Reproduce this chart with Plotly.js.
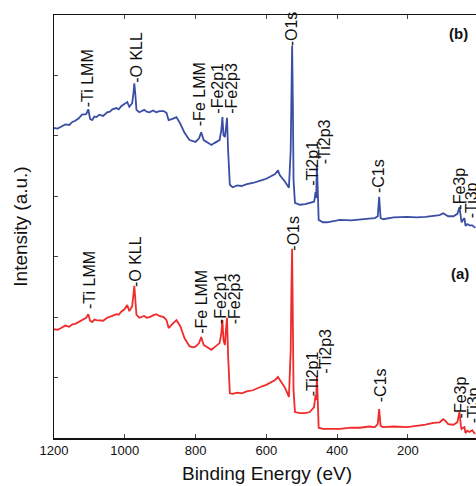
<!DOCTYPE html>
<html>
<head>
<meta charset="utf-8">
<script src="https://cdn.plot.ly/plotly-3.0.1.min.js"></script>
<style>
html,body{margin:0;padding:0;overflow:hidden;background:#fff;}
#chart{width:480px;height:486px;}
</style>
</head>
<body>
<div id="chart"></div>
<script>
// Binding energy (eV)
const energy = [1200,1190,1180,1168,1157,1148,1140,1130,1121,1109,1103,1098,1092,1086,1080,1072,1061,1050,1042,1035,1024,1017,1010,1001,993,987,979,975,973,970,967,959,952,945,938,930,920,911,902,890,882,876,865,854,843,831,817,808,800,790,784,777,769,762,755,747,740,732,727,724,721,717,714,711,708,703,695,682,670,655,638,624,610,600,590,575,567,562,547,536,531,529,527,525,523,519,505,490,477,465,463,461,459,457,455,452,440,428,410,392,360,335,310,293,285,281,277,270,240,202,175,150,128,110,100,93,86,71,60,54,50,48,44,40,37,32,26,18,12,9];
// Spectrum (b), offset (a.u.)
const intensityB = [51.3,51.2,51.5,51.9,51.8,52.3,52.5,52.9,53.5,53.6,54.4,52.8,52.6,53.2,53.1,53.5,53.3,53.9,54.0,54.4,54.6,54.4,54.9,55.3,55.6,54.8,55.4,57.3,58.7,56.8,54.3,53.9,54.1,54.3,54.0,53.9,54.2,53.9,54.1,54.1,53.8,52.6,52.8,53.1,52.0,50.5,49.3,49.1,49.0,49.6,50.6,49.3,49.0,48.7,48.5,48.8,49.0,49.3,51.0,53.1,50.1,49.8,51.3,53.0,47.7,41.9,41.5,41.8,41.7,42.0,42.2,42.4,42.7,42.9,43.2,43.7,44.3,43.5,42.4,41.4,47.7,59.2,64.9,55.9,42.7,38.9,38.6,38.7,38.9,39.1,39.7,40.7,39.7,45.2,41.9,36.1,35.7,35.7,35.9,36.1,36.0,36.2,36.3,36.4,36.7,39.9,36.4,36.2,36.5,36.6,36.5,36.6,36.7,36.9,37.2,36.9,36.7,36.7,37.1,38.2,36.4,35.7,36.1,36.4,35.1,35.4,35.2,35.2,34.9,34.8];
// Spectrum (a) (a.u.)
const intensityA = [18.0,17.9,18.2,18.6,18.4,18.8,18.9,19.2,19.5,19.9,20.5,19.4,19.2,19.6,19.5,19.5,19.4,19.9,20.0,20.2,20.5,20.4,20.9,21.3,22.0,21.0,21.8,23.5,25.2,22.8,20.4,19.9,20.1,20.2,19.9,20.0,20.3,20.5,20.2,20.0,19.5,18.2,18.9,19.5,18.5,16.5,15.2,15.0,15.1,15.7,16.7,15.4,15.1,14.8,14.6,15.0,15.4,15.7,17.4,19.5,16.2,15.4,17.9,19.9,13.7,7.4,7.3,7.5,7.4,7.7,7.9,8.3,8.6,8.8,9.1,9.6,10.1,9.6,8.3,6.8,14.6,24.5,31.3,19.5,7.9,4.3,4.1,4.1,4.3,5.1,6.0,7.1,6.3,10.1,7.1,1.7,1.5,1.5,1.6,1.5,1.7,1.7,1.9,1.8,2.3,4.8,2.0,1.8,1.9,1.8,2.0,2.2,2.5,2.6,3.1,2.8,2.3,2.2,2.6,4.3,2.0,1.5,1.7,1.8,0.8,1.2,1.0,1.3,0.8,0.7];

// Peak labels
const peakLabels = ["-Ti LMM","-O KLL","-Fe LMM","-Fe2p1","-Fe2p3","-O1s","-Ti2p1","-Ti2p3","-C1s","-Fe3p","-Ti3p"];
const labelEnergyB = [1106,967,789,738,698,528,468,437,281,54,20];
const labelHeightB = [54.6,58.6,51.5,53.5,53.5,64.7,41.5,45.2,40.4,37.7,36.1];
const labelEnergyA = [1098,970,783,729,689,522,471,431,275,51,14];
const labelHeightA = [21.2,24.8,17.0,18.7,18.7,30.9,6.8,10.4,5.8,3.0,2.2];

const FONT = '"Liberation Sans", Arial, Helvetica, sans-serif';

const traces = [
  {x: energy, y: intensityB, type: 'scatter', mode: 'lines', line: {color: '#3a4ea6', width: 1.8}, hoverinfo: 'skip'},
  {x: energy, y: intensityA, type: 'scatter', mode: 'lines', line: {color: '#f02b2b', width: 1.8}, hoverinfo: 'skip'}
];

const annotations = [];
function addLabels(xs, ys) {
  for (let i = 0; i < peakLabels.length; i++) {
    annotations.push({
      x: xs[i], y: ys[i], xref: 'x', yref: 'y', text: peakLabels[i],
      showarrow: false, textangle: -90, xanchor: 'center', yanchor: 'bottom',
      font: {family: FONT, size: 16, color: '#111'}, borderpad: 0
    });
  }
}
addLabels(labelEnergyB, labelHeightB);
addLabels(labelEnergyA, labelHeightA);

const W = 480, H = 486, L = 54, R = 0, T = 15, B = 48;
function px2paper(px, py) { return [(px - L) / (W - L - R), 1 - (py - T) / (H - T - B)]; }
const tagB = px2paper(458, 34), tagA = px2paper(460, 273);
annotations.push({x: tagB[0], y: tagB[1], xref: 'paper', yref: 'paper', xanchor: 'center', yanchor: 'middle',
  text: '<b>(b)</b>', showarrow: false, font: {family: FONT, size: 15, color: '#111'}});
annotations.push({x: tagA[0], y: tagA[1], xref: 'paper', yref: 'paper', xanchor: 'center', yanchor: 'middle',
  text: '<b>(a)</b>', showarrow: false, font: {family: FONT, size: 15, color: '#111'}});

const layout = {
  width: W, height: H,
  margin: {l: L, r: R, t: T, b: B, pad: 0},
  paper_bgcolor: '#fff', plot_bgcolor: '#fff',
  showlegend: false,
  font: {family: FONT, color: '#111'},
  xaxis: {
    range: [1200, -4], tickvals: [1200,1000,800,600,400,200],
    ticks: 'inside', ticklen: 4, tickwidth: 1, tickcolor: '#444',
    showline: true, linecolor: '#111', linewidth: 1.5, mirror: 'ticks',
    showgrid: false, zeroline: false,
    tickfont: {family: FONT, size: 13, color: '#111'},
    title: {text: 'Binding Energy (eV)', font: {family: FONT, size: 19, color: '#111'}, standoff: 9},
    automargin: false
  },
  yaxis: {
    range: [0, 70], dtick: 10, showticklabels: false,
    ticks: 'inside', ticklen: 4, tickwidth: 1, tickcolor: '#444',
    showline: true, linecolor: '#111', linewidth: 1.5, mirror: 'ticks',
    showgrid: false, zeroline: false,
    title: {text: 'Intensity (a.u.)', font: {family: FONT, size: 19, color: '#111'}, standoff: 20},
    automargin: false
  },
  annotations: annotations
};

Plotly.newPlot('chart', traces, layout, {staticPlot: true, displayModeBar: false});
</script>
</body>
</html>
